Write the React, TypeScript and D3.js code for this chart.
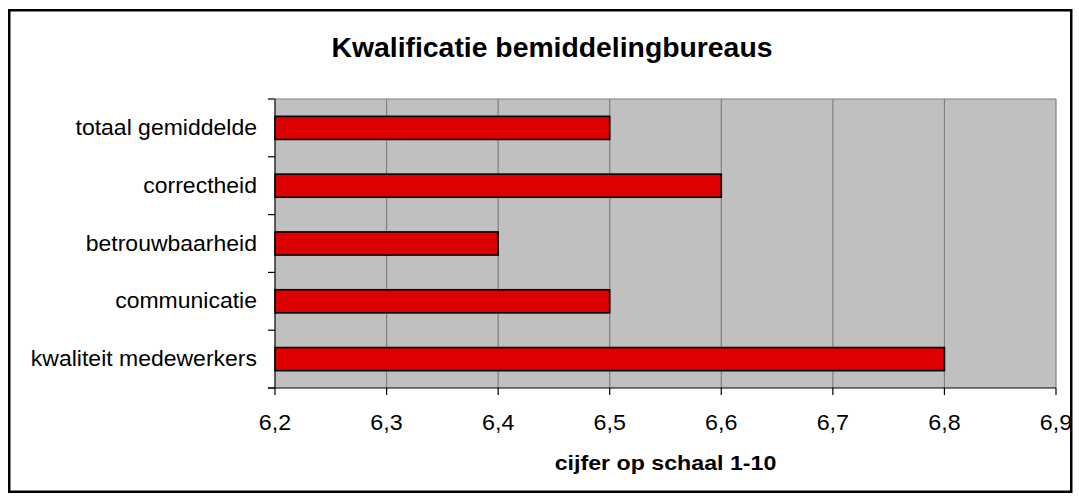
import React from "react";
import * as d3 from "d3";

const categories = [
  "totaal gemiddelde",
  "correctheid",
  "betrouwbaarheid",
  "communicatie",
  "kwaliteit medewerkers",
];
const values = [6.5, 6.6, 6.4, 6.5, 6.8];
const xTicks = [6.2, 6.3, 6.4, 6.5, 6.6, 6.7, 6.8, 6.9];
const title = "Kwalificatie bemiddelingbureaus";
const xTitle = "cijfer op schaal 1-10";

const W = 1079;
const H = 497;
const plot = { left: 275, right: 1056, top: 99, bottom: 388 };
const FONT = "'Liberation Sans', Arial, Helvetica, sans-serif";

export default function App() {
  const x = d3.scaleLinear().domain([6.2, 6.9]).range([plot.left, plot.right]);
  const y = d3
    .scaleBand<string>()
    .domain(categories)
    .range([plot.top, plot.bottom])
    .paddingInner(0.6)
    .paddingOuter(0.3);
  const step = y.step();
  const boundaries = d3.range(categories.length + 1).map((i) => plot.top + i * step);
  const fmt = (v: number) => v.toFixed(1).replace(".", ",");

  return (
    <svg
      width={W}
      height={H}
      style={{ position: "absolute", left: 0, top: 0, background: "#fff" }}
      fontFamily={FONT}
    >
      <rect x={0} y={0} width={W} height={H} fill="#fff" />
      <rect x={9.25} y={10.25} width={1062} height={481.5} fill="#fff" stroke="#000" strokeWidth={2.5} />

      <text
        transform={`translate(552,56.5) scale(1.05,1)`}
        textAnchor="middle"
        fontSize={27}
        fontWeight="bold"
        fill="#000"
      >
        {title}
      </text>

      {/* plot area */}
      <rect
        x={plot.left}
        y={plot.top}
        width={plot.right - plot.left}
        height={plot.bottom - plot.top}
        fill="#C0C0C0"
      />
      {xTicks.slice(1).map((t) => (
        <line key={"g" + t} x1={x(t)} x2={x(t)} y1={plot.top} y2={plot.bottom} stroke="#808080" strokeWidth={1.2} />
      ))}
      <line x1={plot.left} x2={plot.right} y1={plot.top} y2={plot.top} stroke="#808080" strokeWidth={1.2} />

      {/* bars */}
      {categories.map((c, i) => (
        <rect
          key={c}
          x={x(6.2)}
          y={y(c)}
          width={x(values[i]) - x(6.2)}
          height={y.bandwidth()}
          fill="#DD0000"
          stroke="#000"
          strokeWidth={1.6}
        />
      ))}

      {/* axes */}
      <line x1={plot.left} x2={plot.left} y1={plot.top} y2={plot.bottom} stroke="#000" strokeWidth={1.2} />
      <line x1={plot.left - 7} x2={plot.right} y1={plot.bottom} y2={plot.bottom} stroke="#000" strokeWidth={1.2} />
      {boundaries.map((b, i) => (
        <line key={"yt" + i} x1={plot.left - 7} x2={plot.left} y1={b} y2={b} stroke="#000" strokeWidth={1.2} />
      ))}
      {xTicks.map((t) => (
        <line key={"xt" + t} x1={x(t)} x2={x(t)} y1={plot.bottom} y2={plot.bottom + 7} stroke="#000" strokeWidth={1.2} />
      ))}

      {/* y labels */}
      {categories.map((c) => (
        <text
          key={"yl" + c}
          transform={`translate(257,${(y(c) as number) + y.bandwidth() / 2 + 7}) scale(1.045,1)`}
          textAnchor="end"
          fontSize={22}
          fill="#000"
        >
          {c}
        </text>
      ))}

      {/* x labels */}
      {xTicks.map((t) => (
        <text
          key={"xl" + t}
          transform={`translate(${x(t)},429.5) scale(1.06,1)`}
          textAnchor="middle"
          fontSize={22}
          fill="#000"
        >
          {fmt(t)}
        </text>
      ))}

      <text
        transform={`translate(${(plot.left + plot.right) / 2},469.5) scale(1.16,1)`}
        textAnchor="middle"
        fontSize={20}
        fontWeight="bold"
        fill="#000"
      >
        {xTitle}
      </text>
    </svg>
  );
}
